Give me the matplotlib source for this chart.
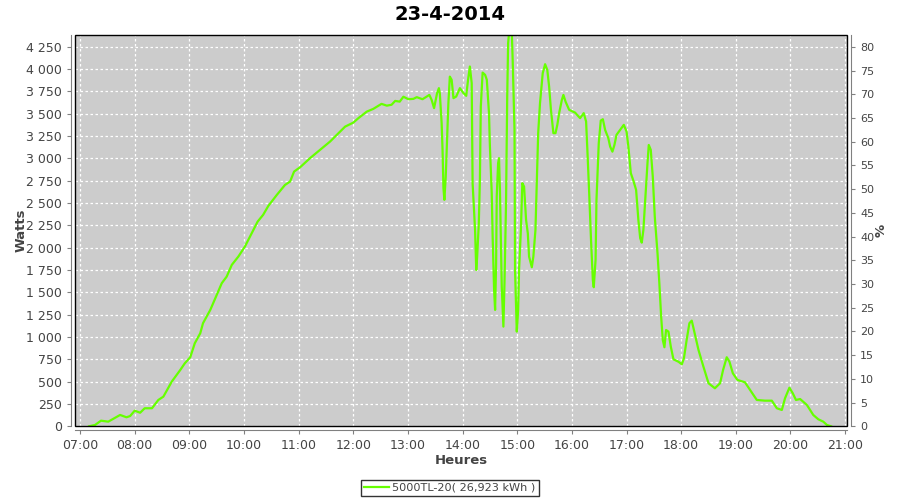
import matplotlib
matplotlib.use("Agg")
import matplotlib.pyplot as plt
from matplotlib.patches import Rectangle
from matplotlib.ticker import FuncFormatter, MultipleLocator

# production readings: minutes after 07:00 and power in watts
minutes = [9.9, 16.5, 23, 31, 44, 51, 55, 60, 66, 71, 79, 86, 91.5, 100.7, 110, 115, 121, 126,
           132, 135, 143, 150, 155.6, 161, 166.6, 173.8, 181, 188.5, 195, 201, 206.7, 216, 225,
           230.6, 235, 241.6, 252.5, 263.5, 274.5, 285.5, 291, 300, 305.6, 314.8, 322, 331,
           336.8, 342, 346, 351, 355, 360.5, 366, 369.7, 376, 383.5, 386, 388.7, 392, 394, 395,
           397, 398, 399, 400, 401.5, 402.6, 404.4, 406, 408, 410, 413, 417, 421, 424, 426, 428,
           430, 431, 433.7, 435, 436, 437.8, 439, 440, 442, 444.7, 446.6, 449, 450, 452, 453,
           454.6, 455.7, 456.8, 457.5, 459, 460, 461, 462, 463, 464.8, 466, 467.7, 469, 470,
           471.4, 474, 475, 477, 477.6, 479.5, 481, 482, 484, 485.6, 487.5, 489.7, 491.6, 493,
           496, 497.7, 500, 501.5, 503, 505, 508, 510.6, 513, 515, 517, 519.7, 522, 524, 526,
           529, 530.7, 533, 537, 543.5, 549, 553, 555.6, 557, 559, 561, 563, 564, 566, 567,
           569.5, 571.7, 574, 576.5, 580, 582, 584.5, 586.7, 589, 593, 597, 600, 602, 604.7,
           607.5, 610.5, 613, 615, 616.7, 618.5, 620.7, 623, 624.4, 626.6, 628.8, 631, 634, 636,
           638, 639.8, 641.6, 643.4, 646, 648.6, 651.5, 657, 660.7, 663, 666, 669, 671.6, 674,
           679, 684.4, 690, 697, 702.7, 706, 710, 713, 716.7, 721.7, 730, 735.7, 743, 752,
           759.5, 765, 770.5, 774, 778.8, 782.5, 786, 790.6, 798, 805, 810.6, 816, 820, 824.6]
watts = [0, 15, 63, 52, 127, 101, 115, 175, 152, 202, 202, 295, 332, 500, 630, 705, 773, 930,
         1042, 1154, 1303, 1470, 1602, 1676, 1807, 1900, 2012, 2162, 2292, 2367, 2467, 2590, 2702,
         2740, 2852, 2900, 3002, 3095, 3188, 3300, 3355, 3400, 3450, 3523, 3554, 3610,
         3590, 3600, 3643, 3635, 3690, 3662, 3666, 3685, 3662, 3710, 3655, 3562, 3730, 3786, 3730,
         3394, 3095, 2666, 2535, 2795, 3095, 3618, 3915, 3879, 3674, 3692, 3786, 3730, 3700, 3879, 4028,
         3842, 2722, 2199, 1750, 1900, 2274, 2759, 3580, 3960, 3935, 3879, 3506, 3132, 2610, 2124,
         1527, 1303, 1826, 2572, 2946, 3002, 2647, 2124, 1564, 1116, 1602, 2498, 3692, 4290,
         4450, 4420, 4102, 3319, 1750, 1060, 1303, 1750, 2199, 2722, 2684, 2310, 2162, 1900,
         1781, 1900, 2199, 2759, 3282, 3618, 3954, 4054, 3990, 3804, 3543, 3282, 3282, 3375, 3506,
         3655, 3710, 3636, 3543, 3512, 3450, 3506, 3412, 3095, 2610, 2087, 1639, 1557, 1863, 2535,
         3170, 3423, 3438, 3318, 3226, 3132, 3075, 3150, 3263, 3319, 3375, 3300, 3132, 2834,
         2750, 2647, 2310, 2106, 2056, 2199, 2572, 2946, 3150, 3095, 2796, 2348, 1938, 1605,
         1228, 967, 885, 1078, 1060, 892, 750, 723, 694, 762, 967, 1154, 1183, 1078,
         855, 668, 482, 426, 482, 631, 773, 723, 594, 519, 493, 407, 295, 287,
         287, 202, 183, 314, 432, 370, 295, 305, 239, 127, 78, 52, 15, 0]

hour_ticks = list(range(7, 22))
hour_labels = [f"{h:02d}:00" for h in hour_ticks]
title = "23-4-2014"
series_name = "5000TL-20( 26,923 kWh )"

hours = [7 + m / 60 for m in minutes]

axis_grey = "#808080"
text_grey = "#444444"
green = "#66FF00"

fig = plt.figure(figsize=(9, 5), dpi=100)
ax = fig.add_axes([75 / 900, 1 - 426.3 / 500, 772 / 900, 391.3 / 500])
ax.set_facecolor("#CCCCCC")

line, = ax.plot(hours, watts, color=green, lw=1.6, label=series_name, zorder=3)
ax.set_xlim(6.908, 21.034)
ax.set_ylim(0, 4381)

ax.set_xticks(hour_ticks)
ax.set_xticklabels(hour_labels)
ax.yaxis.set_major_locator(MultipleLocator(250))
ax.yaxis.set_major_formatter(FuncFormatter(lambda v, p: f"{v:,.0f}".replace(",", " ")))
ax.grid(True, color="white", linestyle=(0, (2, 2)), lw=0.9)
ax.set_axisbelow(True)

for side in ["top", "right"]:
    ax.spines[side].set_visible(False)
for side in ["left", "bottom"]:
    ax.spines[side].set_position(("outward", 3))
    ax.spines[side].set_color(axis_grey)
ax.tick_params(axis="both", colors=axis_grey, labelcolor=text_grey, labelsize=9,
               length=3, width=0.8, direction="out")

ax2 = ax.twinx()
ax2.set_ylim(0, 82.5)
ax2.yaxis.set_major_locator(MultipleLocator(5))
for side in ["top", "left", "bottom"]:
    ax2.spines[side].set_visible(False)
ax2.spines["right"].set_position(("outward", 3))
ax2.spines["right"].set_color(axis_grey)
ax2.tick_params(axis="y", colors=axis_grey, labelcolor=text_grey, labelsize=8,
                length=3, width=0.8, direction="out")
ax2.add_patch(Rectangle((0, 0), 1, 1, transform=ax2.transAxes, fill=False,
                        ec="black", lw=1, clip_on=False, zorder=5))

ax.set_ylabel("Watts", fontsize=9.5, fontweight="bold", color=text_grey, labelpad=-1.3)
ax.set_xlabel("Heures", fontsize=9.5, fontweight="bold", color=text_grey, labelpad=0.8)
ax2.set_ylabel("%", fontsize=9.5, fontweight="bold", color=text_grey, labelpad=0.4)
fig.suptitle(title, x=0.5, y=0.99, fontsize=14, fontweight="bold")

fig.legend(handles=[line], loc="center", bbox_to_anchor=(450 / 900, 1 - 488 / 500),
           frameon=True, fancybox=False, edgecolor="black", fontsize=8.1,
           handlelength=2.2, handletextpad=0.3, borderpad=0.3, labelcolor=text_grey)

fig.savefig("out.png", dpi=100)
